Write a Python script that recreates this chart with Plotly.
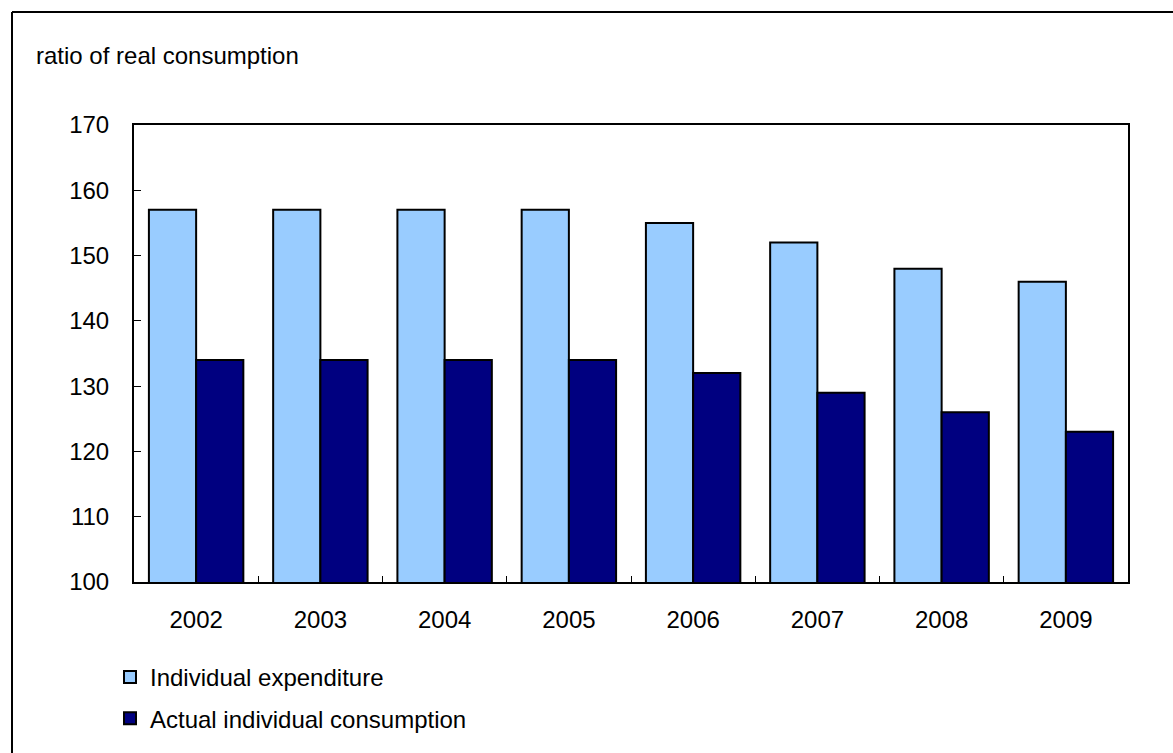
import plotly.graph_objects as go

years = ["2002", "2003", "2004", "2005", "2006", "2007", "2008", "2009"]
individual_expenditure = [157, 157, 157, 157, 155, 152, 148, 146]
actual_individual_consumption = [134, 134, 134, 134, 132, 129, 126, 123]

W, H = 1173, 753
L, R, T, B = 134, 1128, 125, 582
pw, ph = R - L, B - T

def px(x):
    return (x - L) / pw

def py(y):
    return (B - y) / ph

FONT = "Liberation Sans, Arial, sans-serif"
FS = 24

fig = go.Figure()
fig.add_trace(go.Bar(
    x=years, y=individual_expenditure, name="Individual expenditure",
    marker=dict(color="#99CCFF", line=dict(color="black", width=2)),
    legendgroup="a",
))
fig.add_trace(go.Bar(
    x=years, y=actual_individual_consumption, name="Actual individual consumption",
    marker=dict(color="#000080", line=dict(color="black", width=2)),
    legendgroup="b",
))

fig.update_layout(
    width=W, height=H,
    margin=dict(l=L, r=W - R, t=T, b=H - B, autoexpand=False),
    plot_bgcolor="white", paper_bgcolor="white",
    barmode="group", bargap=0.24, bargroupgap=0,
    font=dict(family=FONT, size=FS, color="black"),
    showlegend=True,
    legend=dict(
        x=px(110), y=py(655), xanchor="left", yanchor="top",
        orientation="v", traceorder="grouped", tracegroupgap=7,
        font=dict(size=FS), bgcolor="rgba(0,0,0,0)",
        itemwidth=30,
    ),
    xaxis=dict(
        showline=True, linecolor="black", linewidth=2, mirror=True,
        ticks="inside", tickson="boundaries", ticklen=6, tickcolor="black", tickwidth=1,
        tickfont=dict(size=FS), ticklabelstandoff=15,
        showgrid=False,
    ),
    yaxis=dict(
        range=[100, 170], dtick=10, tick0=100,
        showline=True, linecolor="black", linewidth=2, mirror=True,
        ticks="inside", ticklen=7, tickcolor="black", tickwidth=1,
        tickfont=dict(size=FS), ticklabelstandoff=18,
        showgrid=False, zeroline=False,
    ),
    annotations=[dict(
        text="ratio of real consumption", xref="paper", yref="paper",
        x=px(34), y=py(55), xanchor="left", yanchor="middle",
        showarrow=False, font=dict(size=FS),
    )],
    shapes=[
        dict(type="line", xref="paper", yref="paper",
             x0=px(12), y0=py(12), x1=px(12), y1=py(H + 5),
             line=dict(color="black", width=2)),
        dict(type="line", xref="paper", yref="paper",
             x0=px(12), y0=py(12), x1=px(W + 5), y1=py(12),
             line=dict(color="black", width=2)),
    ],
)

fig.write_html("out.html")
